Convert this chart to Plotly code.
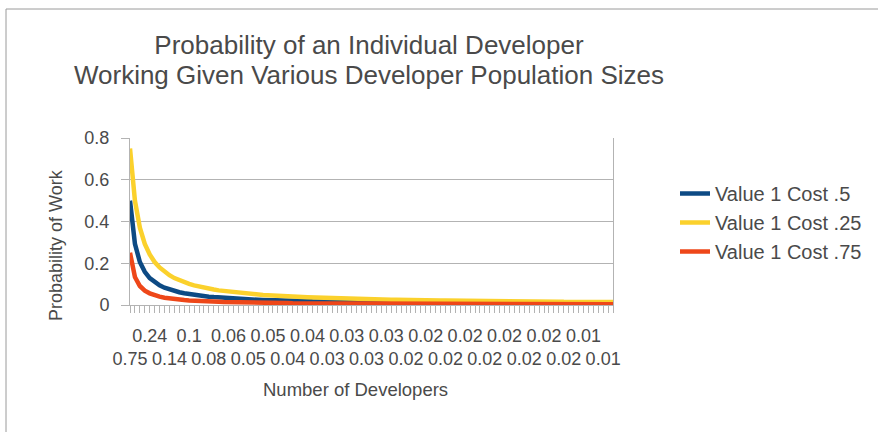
import plotly.graph_objects as go

# Number of developers in the population (one category per count)
developers = list(range(2, 101))

# Probability that an individual developer works, value 1, cost .5
cost_50 = [
    0.500, 0.293, 0.206, 0.159, 0.129, 0.109, 0.094, 0.083, 0.074, 0.067,
    0.061, 0.056, 0.052, 0.048, 0.045, 0.042, 0.040, 0.038, 0.036, 0.034,
    0.032, 0.031, 0.030, 0.028, 0.027, 0.026, 0.025, 0.024, 0.024, 0.023,
    0.022, 0.021, 0.021, 0.020, 0.020, 0.019, 0.019, 0.018, 0.018, 0.017,
    0.017, 0.016, 0.016, 0.016, 0.015, 0.015, 0.015, 0.014, 0.014, 0.014,
    0.013, 0.013, 0.013, 0.013, 0.013, 0.012, 0.012, 0.012, 0.012, 0.011,
    0.011, 0.011, 0.011, 0.011, 0.011, 0.010, 0.010, 0.010, 0.010, 0.010,
    0.010, 0.010, 0.009, 0.009, 0.009, 0.009, 0.009, 0.009, 0.009, 0.009,
    0.009, 0.008, 0.008, 0.008, 0.008, 0.008, 0.008, 0.008, 0.008, 0.008,
    0.008, 0.008, 0.007, 0.007, 0.007, 0.007, 0.007, 0.007, 0.007,
]

# Value 1, cost .25
cost_25 = [
    0.750, 0.500, 0.370, 0.293, 0.242, 0.206, 0.180, 0.159, 0.143, 0.129,
    0.118, 0.109, 0.101, 0.094, 0.088, 0.083, 0.078, 0.074, 0.070, 0.067,
    0.064, 0.061, 0.058, 0.056, 0.054, 0.052, 0.050, 0.048, 0.047, 0.045,
    0.044, 0.042, 0.041, 0.040, 0.039, 0.038, 0.037, 0.036, 0.035, 0.034,
    0.033, 0.032, 0.032, 0.031, 0.030, 0.030, 0.029, 0.028, 0.028, 0.027,
    0.027, 0.026, 0.026, 0.025, 0.025, 0.024, 0.024, 0.024, 0.023, 0.023,
    0.022, 0.022, 0.022, 0.021, 0.021, 0.021, 0.020, 0.020, 0.020, 0.020,
    0.019, 0.019, 0.019, 0.019, 0.018, 0.018, 0.018, 0.018, 0.017, 0.017,
    0.017, 0.017, 0.017, 0.016, 0.016, 0.016, 0.016, 0.016, 0.015, 0.015,
    0.015, 0.015, 0.015, 0.015, 0.014, 0.014, 0.014, 0.014, 0.014,
]

# Value 1, cost .75
cost_75 = [
    0.250, 0.134, 0.091, 0.069, 0.056, 0.047, 0.040, 0.035, 0.031, 0.028,
    0.026, 0.024, 0.022, 0.020, 0.019, 0.018, 0.017, 0.016, 0.015, 0.014,
    0.014, 0.013, 0.012, 0.012, 0.011, 0.011, 0.011, 0.010, 0.010, 0.010,
    0.009, 0.009, 0.009, 0.008, 0.008, 0.008, 0.008, 0.008, 0.007, 0.007,
    0.007, 0.007, 0.007, 0.007, 0.006, 0.006, 0.006, 0.006, 0.006, 0.006,
    0.006, 0.006, 0.005, 0.005, 0.005, 0.005, 0.005, 0.005, 0.005, 0.005,
    0.005, 0.005, 0.005, 0.004, 0.004, 0.004, 0.004, 0.004, 0.004, 0.004,
    0.004, 0.004, 0.004, 0.004, 0.004, 0.004, 0.004, 0.004, 0.004, 0.004,
    0.004, 0.004, 0.003, 0.003, 0.003, 0.003, 0.003, 0.003, 0.003, 0.003,
    0.003, 0.003, 0.003, 0.003, 0.003, 0.003, 0.003, 0.003, 0.003,
]

# Category labels shown on the x axis (every fourth category)
tick_labels = [
    "0.75", "0.24", "0.14", "0.1", "0.08", "0.06", "0.05", "0.05", "0.04",
    "0.04", "0.03", "0.03", "0.03", "0.03", "0.02", "0.02", "0.02", "0.02",
    "0.02", "0.02", "0.02", "0.02", "0.02", "0.01", "0.01",
]

series = [
    ("Value 1 Cost .5", cost_50, "#0d4a84"),
    ("Value 1 Cost .25", cost_25, "#fbd12c"),
    ("Value 1 Cost .75", cost_75, "#ee4719"),
]

FONT = "Liberation Sans, Arial, sans-serif"
TEXT = "#4a4a4a"
GRID = "#b3b3b3"

fig = go.Figure()
for name, values, color in series:
    fig.add_trace(go.Scatter(
        x=developers, y=values, name=name, mode="lines",
        line=dict(color=color, width=4.5), legendgroup=name,
    ))

# staggered category labels: alternate between two rows
tick_vals = developers[::4]
tick_text = [("<br>" + t) if i % 2 == 0 else t for i, t in enumerate(tick_labels)]

# title glyphs at 26px on a tighter line pitch
title_lines = ["Probability of an Individual Developer",
               "Working Given Various Developer Population Sizes"]
title_text = "<br>".join(f"<span style='font-size:26px'>{t}</span>" for t in title_lines)

fig.update_layout(
    width=878, height=432,
    margin=dict(l=130, r=265, t=138, b=127, autoexpand=False),
    paper_bgcolor="white", plot_bgcolor="white",
    font=dict(family=FONT, color=TEXT),
    title=dict(
        text=title_text,
        x=369 / 878, xanchor="center", xref="container",
        y=1 - 54 / 432, yanchor="top", yref="container",
        font=dict(size=23, color=TEXT, family=FONT),
    ),
    showlegend=True,
    legend=dict(
        x=(675 - 130) / 483, xanchor="left",
        y=(305 - 174) / 167, yanchor="top",
        font=dict(size=20, color=TEXT, family=FONT),
        bgcolor="rgba(0,0,0,0)", tracegroupgap=0,
    ),
    xaxis=dict(
        range=[developers[0], developers[-1]],
        tickmode="array", tickvals=tick_vals, ticktext=tick_text,
        tickangle=0,
        ticks="outside", ticklen=7, tickcolor=GRID,
        tickfont=dict(size=18, color=TEXT, family=FONT),
        ticklabelstandoff=7,
        minor=dict(tickmode="linear", tick0=developers[0], dtick=1,
                   ticks="outside", ticklen=7, tickcolor=GRID, showgrid=False),
        showgrid=False, zeroline=False,
        showline=True, linecolor=GRID, linewidth=1,
        automargin=False,
    ),
    yaxis=dict(
        range=[0, 0.8], tickmode="linear", tick0=0, dtick=0.2,
        ticks="outside", ticklen=8, tickcolor=GRID,
        tickfont=dict(size=18, color=TEXT, family=FONT),
        ticklabelstandoff=8,
        showgrid=True, gridcolor=GRID, gridwidth=1, zeroline=False,
        showline=True, linecolor=GRID, linewidth=1, mirror=True,
        automargin=False,
    ),
    annotations=[
        dict(text="Probability of Work", textangle=-90,
             xref="paper", yref="paper",
             x=(56 - 130) / 483, y=(305 - 245) / 167,
             xanchor="center", yanchor="middle", showarrow=False,
             font=dict(size=18, color=TEXT, family=FONT)),
        dict(text="Number of Developers",
             xref="paper", yref="paper",
             x=(355 - 130) / 483, y=(305 - 389) / 167,
             xanchor="center", yanchor="middle", showarrow=False,
             font=dict(size=18.5, color=TEXT, family=FONT)),
    ],
    shapes=[
        dict(type="rect", xref="paper", yref="paper",
             x0=(6 - 130) / 483, x1=(890 - 130) / 483,
             y0=(305 - 450) / 167, y1=(305 - 9) / 167,
             line=dict(color="#9a9a9a", width=1), layer="below"),
    ],
)

fig.write_html("out.html")
